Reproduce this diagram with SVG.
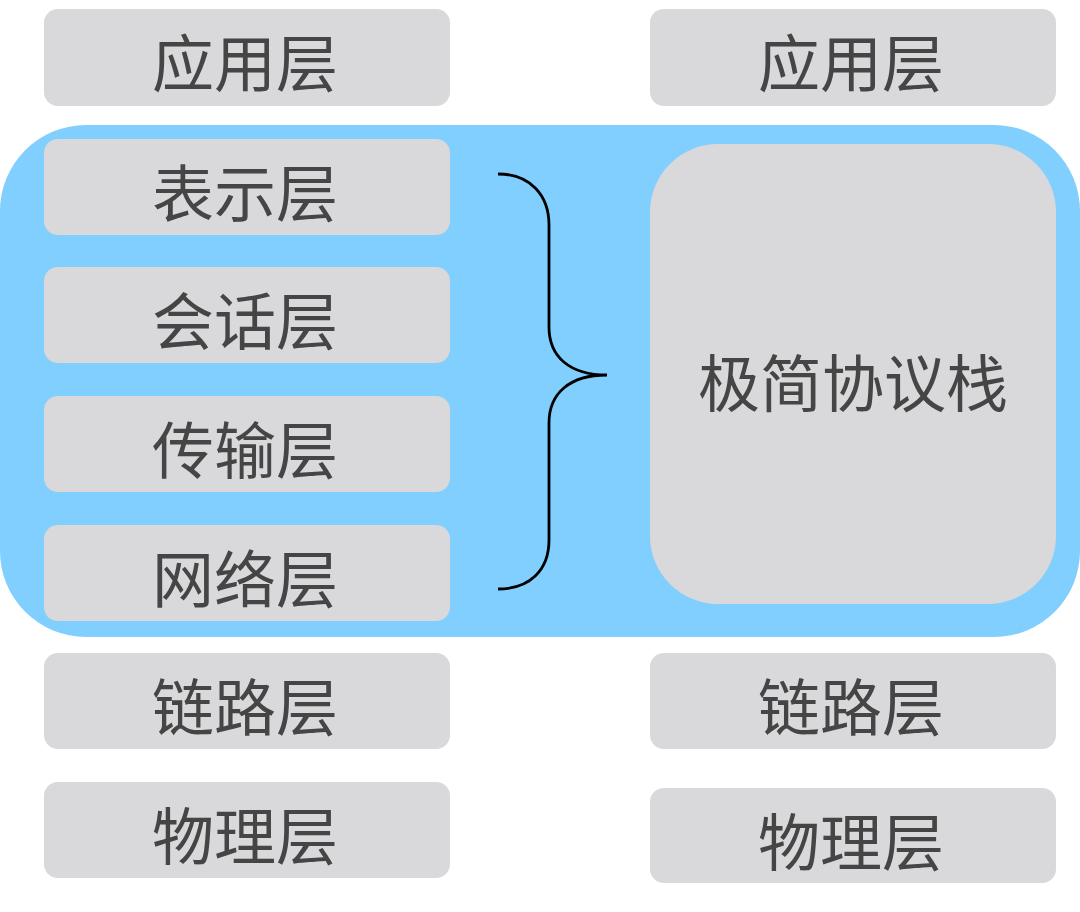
<svg xmlns="http://www.w3.org/2000/svg" width="1080" height="912" viewBox="0 0 1080 912">
<style>
.box{fill:#D9D8DA}
.lbl{font-family:"Noto Sans CJK SC","Noto Sans CJK JP",sans-serif;font-size:62px;fill:#454545;text-anchor:middle;dominant-baseline:central}
.brace{fill:none;stroke:#000;stroke-width:2.8}
</style>
<rect width="1080" height="912" fill="#fff"/>
<g id="container"><rect x="0" y="125" width="1080" height="512" rx="86" ry="86" fill="#80CFFE"/></g>
<g id="app-l"><rect class="box" x="44" y="9" width="406" height="97" rx="14"/><text class="lbl" x="245" y="60">应用层</text></g>
<g id="pres-l"><rect class="box" x="44" y="139" width="406" height="96" rx="14"/><text class="lbl" x="245" y="190">表示层</text></g>
<g id="sess-l"><rect class="box" x="44" y="267" width="406" height="96" rx="14"/><text class="lbl" x="245" y="318">会话层</text></g>
<g id="trans-l"><rect class="box" x="44" y="396" width="406" height="96" rx="14"/><text class="lbl" x="245" y="447">传输层</text></g>
<g id="net-l"><rect class="box" x="44" y="525" width="406" height="96" rx="14"/><text class="lbl" x="245" y="576">网络层</text></g>
<g id="link-l"><rect class="box" x="44" y="653" width="406" height="96" rx="14"/><text class="lbl" x="245" y="704">链路层</text></g>
<g id="phy-l"><rect class="box" x="44" y="782" width="406" height="96" rx="14"/><text class="lbl" x="245" y="833">物理层</text></g>
<g id="app-r"><rect class="box" x="650" y="9" width="406" height="97" rx="14"/><text class="lbl" x="851" y="60">应用层</text></g>
<g id="mini"><rect class="box" x="650" y="144" width="406" height="460" rx="68"/><text class="lbl" x="853" y="380">极简协议栈</text></g>
<g id="link-r"><rect class="box" x="650" y="653" width="406" height="96" rx="14"/><text class="lbl" x="851" y="704">链路层</text></g>
<g id="phy-r"><rect class="box" x="650" y="788" width="406" height="95" rx="14"/><text class="lbl" x="851" y="839">物理层</text></g>
<g id="connectors"><path class="brace" d="M498,174 C530,174 549,195 549,225 L549,327 C549,357 570,375 607,375 C570,375 549,393 549,423 L549,540 C549,570 530,589 498,589"/></g>
</svg>
